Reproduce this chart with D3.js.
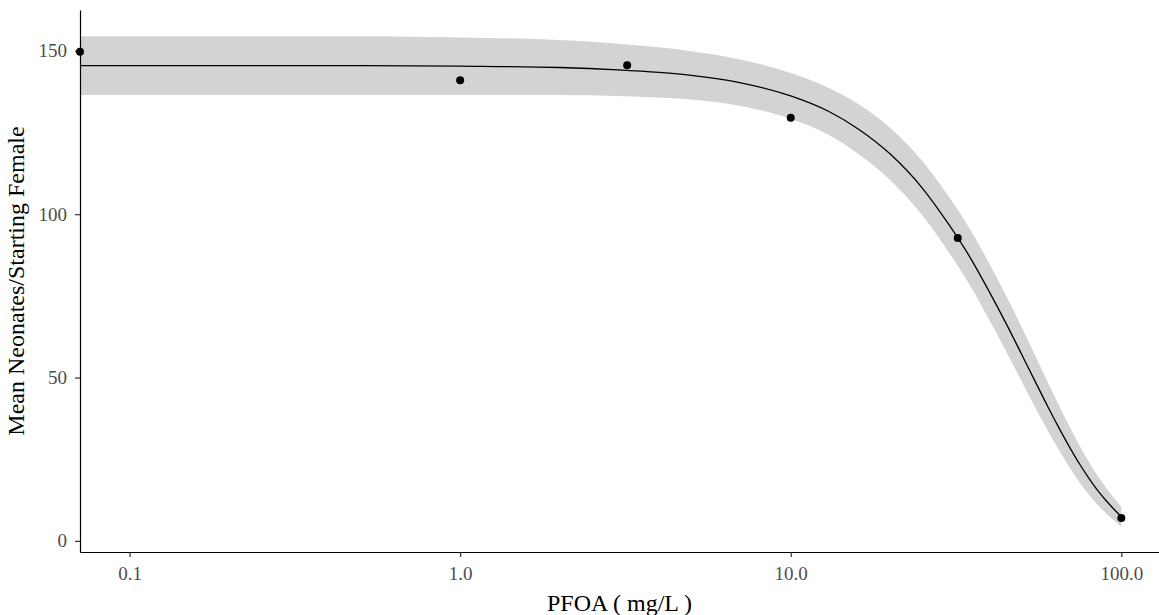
<!DOCTYPE html>
<html>
<head>
<meta charset="utf-8">
<script src="https://cdn.jsdelivr.net/npm/d3@7"></script>
<style>
  body { margin: 0; background: #fff; }
  svg { display: block; }
</style>
</head>
<body>
<script>
// Observed reproduction per concentration (control plotted at the axis minimum)
const doseConc = [0.0708, 1, 3.2, 10, 32, 100];
const meanNeonates = [149.7, 141.0, 145.6, 129.5, 92.7, 7.0];

// Fitted dose-response curve with its confidence band
const fitConc = [0.0708, 0.1, 0.2, 0.5, 1, 2, 3, 4, 5, 7, 10, 13, 16, 20, 25, 30, 35, 40, 45, 50, 55, 60, 65, 70, 75, 80, 85, 90, 95, 100];
const fitMean = [145.5, 145.5, 145.5, 145.5, 145.3, 144.9, 144.2, 143.4, 142.5, 140.3, 136.2, 131.5, 126.1, 118.4, 108.0, 97.0, 86.5, 76.0, 66.2, 57.0, 48.6, 41.0, 34.3, 28.4, 23.3, 19.0, 15.3, 12.3, 9.7, 7.4];
const fitLower = [136.5, 136.5, 136.5, 136.5, 136.5, 136.5, 136.2, 135.7, 135.1, 133.2, 129.2, 124.3, 118.5, 110.4, 99.7, 88.5, 77.9, 67.4, 57.7, 48.7, 40.7, 33.6, 27.5, 22.2, 17.7, 14.0, 10.9, 8.4, 6.3, 4.4];
const fitUpper = [154.5, 154.5, 154.5, 154.5, 154.1, 153.3, 152.2, 151.1, 149.9, 147.4, 143.2, 138.7, 133.7, 126.4, 116.3, 105.5, 95.1, 84.6, 74.7, 65.3, 56.5, 48.4, 41.1, 34.6, 28.9, 24.0, 19.7, 16.2, 13.1, 10.4];

// Axis ticks
const xTicks = [0.1, 1, 10, 100];
const xTickLabels = ["0.1", "1.0", "10.0", "100.0"];
const yTicks = [0, 50, 100, 150];

const W = 1159, H = 615;
const margin = { left: 80, right: 0, top: 10, bottom: 63 };

const svg = d3.select("body").append("svg")
  .attr("width", W).attr("height", H);

const x = d3.scaleLog()
  .domain([0.0708, 130])
  .range([margin.left, W - margin.right]);

const y = d3.scaleLinear()
  .domain([-3.4, 162.5])
  .range([H - margin.bottom, margin.top]);

const fit = fitConc.map((c, i) => ({ c, m: fitMean[i], lo: fitLower[i], hi: fitUpper[i] }));

// Confidence band
svg.append("path")
  .datum(fit)
  .attr("fill", "#d3d3d3")
  .attr("d", d3.area()
    .x(d => x(d.c))
    .y0(d => y(d.lo))
    .y1(d => y(d.hi))
    .curve(d3.curveMonotoneX));

// Fitted curve
svg.append("path")
  .datum(fit)
  .attr("fill", "none")
  .attr("stroke", "#000")
  .attr("stroke-width", 1.3)
  .attr("d", d3.line()
    .x(d => x(d.c))
    .y(d => y(d.m))
    .curve(d3.curveMonotoneX));

// Axes
const fontFamily = "'Liberation Serif', 'Times New Roman', serif";

const xAxis = svg.append("g")
  .attr("transform", `translate(0,${H - margin.bottom})`)
  .call(d3.axisBottom(x)
    .tickValues(xTicks)
    .tickFormat((d, i) => xTickLabels[i])
    .tickSizeInner(5)
    .tickSizeOuter(0)
    .tickPadding(10));

const yAxis = svg.append("g")
  .attr("transform", `translate(${margin.left},0)`)
  .call(d3.axisLeft(y)
    .tickValues(yTicks)
    .tickSizeInner(5)
    .tickSizeOuter(0)
    .tickPadding(8));

[xAxis, yAxis].forEach(g => {
  g.select(".domain").attr("stroke", "#000").attr("stroke-width", 1.2);
  g.selectAll(".tick line").attr("stroke", "#333").attr("stroke-width", 1.2);
  g.selectAll(".tick text")
    .attr("fill", "#4d4d4d")
    .style("font-family", fontFamily)
    .style("font-size", "19px");
});

// Observed points
svg.append("g")
  .selectAll("circle")
  .data(doseConc)
  .join("circle")
  .attr("cx", d => x(d))
  .attr("cy", (d, i) => y(meanNeonates[i]))
  .attr("r", 4)
  .attr("fill", "#000");

// Axis titles
svg.append("text")
  .attr("x", (margin.left + W - margin.right) / 2)
  .attr("y", H - 4)
  .attr("text-anchor", "middle")
  .style("font-family", fontFamily)
  .style("font-size", "24px")
  .attr("fill", "#000")
  .text("PFOA ( mg/L )");

svg.append("text")
  .attr("transform", `translate(24,${(margin.top + H - margin.bottom) / 2}) rotate(-90)`)
  .attr("text-anchor", "middle")
  .style("font-family", fontFamily)
  .style("font-size", "24px")
  .attr("fill", "#000")
  .text("Mean Neonates/Starting Female");
</script>
</body>
</html>
